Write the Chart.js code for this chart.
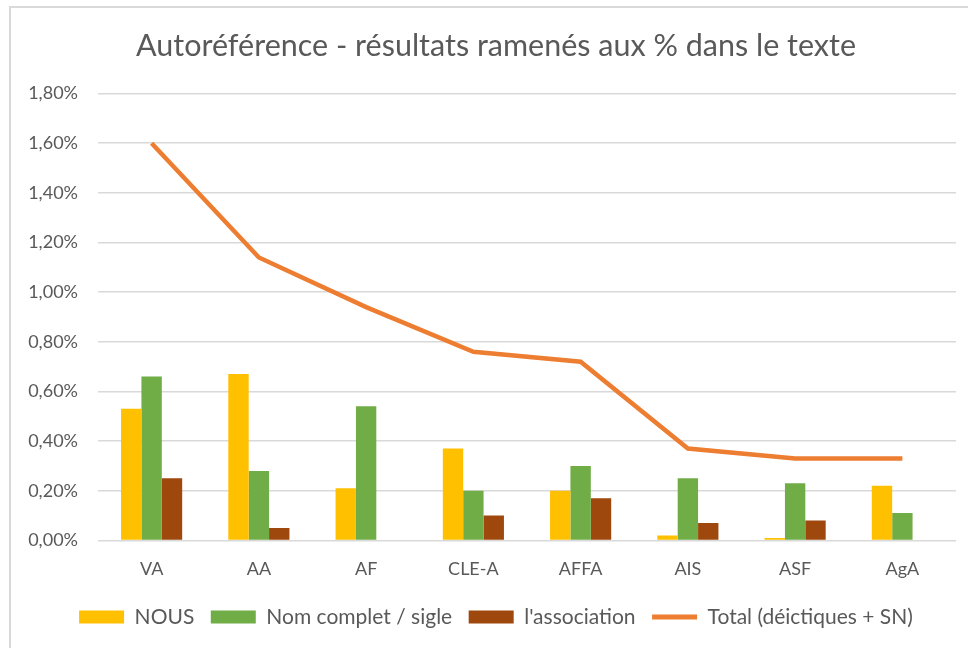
<!DOCTYPE html>
<html>
<head>
<meta charset="utf-8">
<script src="https://cdn.jsdelivr.net/npm/chart.js@4/dist/chart.umd.min.js"></script>
<style>
    html, body { margin: 0; padding: 0; background: #ffffff; }
    #wrap { position: relative; width: 968px; height: 648px; }
    #frame {
        position: absolute; left: 9px; top: 6px; right: 0; bottom: 0;
        border-left: 2px solid #d9d9d9; border-top: 2px solid #d9d9d9;
        pointer-events: none;
    }
</style>
</head>
<body>
<div id="wrap">
    <canvas id="chart-autoref" width="968" height="648"></canvas>
    <div id="frame"></div>
</div>
<script>
    // Données (en % du texte)
    const CATEGORIES = ['VA', 'AA', 'AF', 'CLE-A', 'AFFA', 'AIS', 'ASF', 'AgA'];
    const NOUS = [0.53, 0.67, 0.21, 0.37, 0.20, 0.02, 0.01, 0.22];
    const NOM_SIGLE = [0.66, 0.28, 0.54, 0.20, 0.30, 0.25, 0.23, 0.11];
    const ASSOCIATION = [0.25, 0.05, 0, 0.10, 0.17, 0.07, 0.08, 0];
    const TOTAL = [1.60, 1.14, 0.94, 0.76, 0.72, 0.37, 0.33, 0.33];

    const TEXT_COLOR = '#595959';
    const GRID_COLOR = '#d9d9d9';
    const FONT = 'Lato, "Open Sans", sans-serif';

    const fmtPct = v => v.toFixed(2).replace('.', ',') + '%';

    // l'axe Y est étroit (pour centrer titre + légende comme dans Excel),
    // on élargit donc sa zone de clip pour que les libellés restent visibles
    const unclipY = {
        id: 'unclipY',
        afterLayout(chart) { chart.scales.y.left = 0; },
    };

    new Chart(document.getElementById('chart-autoref'), {
        type: 'bar',
        data: {
            labels: CATEGORIES,
            datasets: [
                { label: 'NOUS', data: NOUS, backgroundColor: '#ffc000' },
                { label: 'Nom complet / sigle', data: NOM_SIGLE, backgroundColor: '#70ad47' },
                { label: "l'association", data: ASSOCIATION, backgroundColor: '#9e480e' },
                {
                    type: 'line',
                    label: 'Total (déictiques + SN)',
                    data: TOTAL,
                    borderColor: '#ed7d31',
                    backgroundColor: '#ed7d31',
                    borderWidth: 4.5,
                    pointRadius: 0,
                    tension: 0,
                },
            ],
        },
        plugins: [unclipY],
        options: {
            responsive: false,
            animation: false,
            datasets: {
                bar: { barPercentage: 1, categoryPercentage: 0.57, borderWidth: 0 },
            },
            layout: { padding: { left: 36, right: 12, top: 0, bottom: 10.5 } },
            plugins: {
                title: {
                    display: true,
                    text: 'Autoréférence - résultats ramenés aux % dans le texte',
                    color: TEXT_COLOR,
                    font: { family: FONT, size: 30.5, weight: 'normal' },
                    padding: { top: 28, bottom: 29 },
                },
                legend: {
                    position: 'bottom',
                    labels: {
                        color: TEXT_COLOR,
                        font: { family: FONT, size: 21 },
                        usePointStyle: true,
                        boxWidth: 45,
                        boxHeight: 13,
                        pointStyleWidth: 45,
                        padding: 16.5,
                        generateLabels(chart) {
                            const items = Chart.defaults.plugins.legend.labels.generateLabels(chart);
                            items.forEach(it => {
                                const ds = chart.data.datasets[it.datasetIndex];
                                if (ds.type === 'line') {
                                    it.pointStyle = 'line';
                                    it.lineWidth = 5;
                                    it.strokeStyle = ds.borderColor;
                                } else {
                                    it.pointStyle = 'rect';
                                    it.lineWidth = 0;
                                    it.fillStyle = ds.backgroundColor;
                                }
                            });
                            return items;
                        },
                    },
                },
                tooltip: { enabled: false },
            },
            scales: {
                x: {
                    grid: { display: false },
                    border: { display: false },
                    ticks: { color: TEXT_COLOR, font: { family: FONT, size: 18 }, padding: 10 },
                },
                y: {
                    min: 0,
                    max: 1.8,
                    afterFit(scale) { scale.width = 62; },
                    grid: { color: GRID_COLOR, lineWidth: 1.5, drawTicks: false },
                    border: { display: false },
                    ticks: {
                        stepSize: 0.2,
                        padding: 20,
                        color: TEXT_COLOR,
                        font: { family: FONT, size: 18 },
                        callback: v => fmtPct(v),
                    },
                },
            },
        },
    });
</script>
</body>
</html>
